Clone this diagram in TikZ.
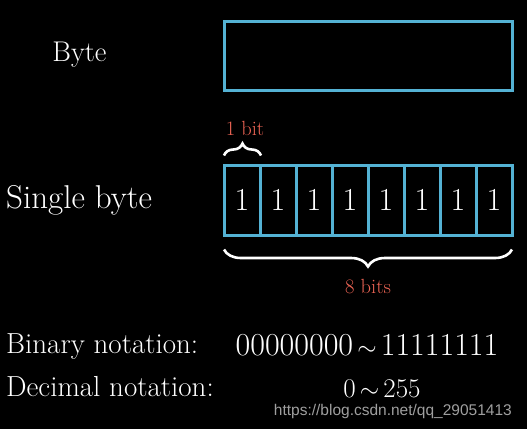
\documentclass[tikz,border=0pt]{standalone}
\usepackage{fontspec}
\setsansfont{Liberation Sans}
\usetikzlibrary{decorations.pathreplacing}
\definecolor{cellblue}{RGB}{84,178,212}
\definecolor{labred}{RGB}{236,100,84}
\begin{document}
\begin{tikzpicture}[x=1pt,y=-1pt,
  cellbox/.style={draw=cellblue,line width=3pt,minimum width=36pt,minimum height=70pt,inner sep=0pt,text=white,font=\fontsize{32}{36}\selectfont},
  bytebox/.style={draw=cellblue,line width=3pt,minimum width=288pt,minimum height=69.5pt,inner sep=0pt},
  lefttext/.style={anchor=base west,inner sep=0pt,text=white},
  redtext/.style={anchor=base,inner sep=0pt,text=labred,font=\fontsize{20.5}{24}\selectfont},
  bracestyle/.style={draw=white,line width=2.6pt,decorate}
]
\fill[black] (0,0) rectangle (527,429);
\useasboundingbox (0,0) rectangle (527,429);

\node[anchor=base,inner sep=0pt,text=white,font=\fontsize{28.5}{32}\selectfont] (bytelabel) at (79.5,61.5) {Byte};
\node[bytebox] (byte) at (368,55.75) {};

\node[lefttext,font=\fontsize{33}{38}\selectfont] (single) at (6,208) {Single byte};
\foreach \k in {1,...,8} {
  \node[cellbox] (c\k) at ({224+36*(\k-0.5)},200) {1};
}

\coordinate (b1a) at (224,155.5);
\coordinate (b1b) at (261,155.5);
\draw[bracestyle,decoration={brace,amplitude=12pt}] (b1a) -- (b1b);
\node[redtext] (onebit) at (245,135) {1 bit};

\coordinate (b2a) at (512,249.5);
\coordinate (b2b) at (224,249.5);
\draw[bracestyle,decoration={brace,amplitude=17pt}] (b2a) -- (b2b);
\node[redtext] (eightbits) at (368,293) {8 bits};

\node[lefttext,font=\fontsize{29}{34}\selectfont] (bin) at (6,353) {Binary notation:};
\node[anchor=base,inner sep=0pt,text=white,font=\fontsize{32}{36}\selectfont] (binval) at (367,355) {00000000$\,{\sim}\,$11111111};

\node[lefttext,font=\fontsize{29}{34}\selectfont] (dec) at (6,396) {Decimal notation:};
\node[anchor=base,inner sep=0pt,text=white,font=\fontsize{27}{32}\selectfont] (decval) at (382,397) {0$\,{\sim}\,$255};

\node[anchor=base east,inner sep=0pt,text=gray!75,font=\sffamily\fontsize{15.5}{18}\selectfont] (wm) at (512,415) {https://blog.csdn.net/qq\_29051413};
\end{tikzpicture}
\end{document}
